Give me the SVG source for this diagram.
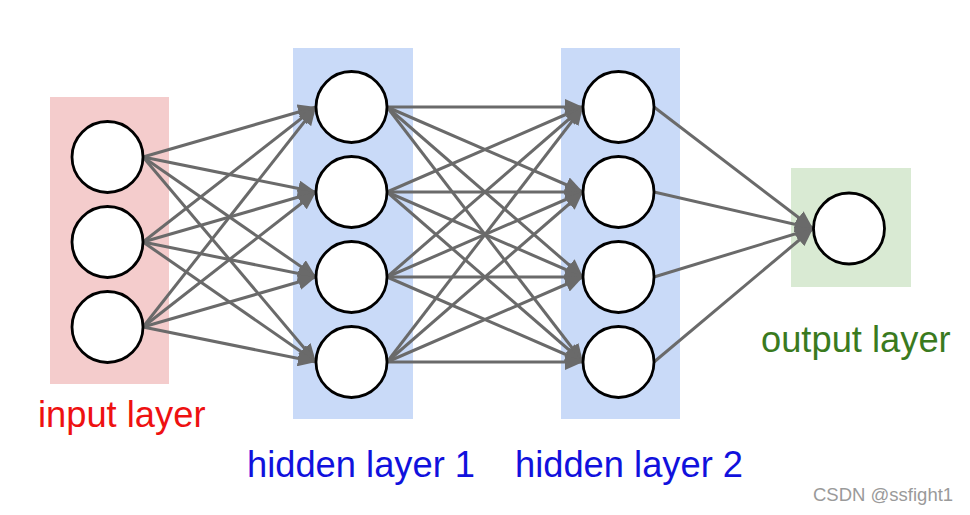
<svg xmlns="http://www.w3.org/2000/svg" width="970" height="515" viewBox="0 0 970 515">
<style>
.n{fill:#ffffff;stroke:#000000;stroke-width:2.8}
.c line{stroke:#6a6a6a;stroke-width:3;marker-end:url(#ah)}
.lbl{font-family:"Liberation Sans",Arial,sans-serif;font-size:36.3px}
</style>
<defs>
<marker id="ah" markerUnits="userSpaceOnUse" viewBox="0 0 18 16" markerWidth="18" markerHeight="16" refX="18" refY="8" orient="auto">
<path d="M0,0 L18,8 L0,16 z" fill="#6a6a6a"/>
</marker>
</defs>
<rect width="970" height="515" fill="#ffffff"/>
<g id="layer-bg">
<rect x="50" y="97" width="119" height="287" fill="#f4cccc"/>
<rect x="293" y="48" width="120" height="371" fill="#c9daf8"/>
<rect x="561" y="48" width="119" height="371" fill="#c9daf8"/>
<rect x="791" y="168" width="120" height="119" fill="#d9ead3"/>
</g>
<g id="connectors" class="c">
<line x1="143" y1="157" x2="316" y2="107"/>
<line x1="143" y1="157" x2="316" y2="192"/>
<line x1="143" y1="157" x2="316" y2="277"/>
<line x1="143" y1="157" x2="316" y2="362"/>
<line x1="143" y1="242" x2="316" y2="107"/>
<line x1="143" y1="242" x2="316" y2="192"/>
<line x1="143" y1="242" x2="316" y2="277"/>
<line x1="143" y1="242" x2="316" y2="362"/>
<line x1="143" y1="327" x2="316" y2="107"/>
<line x1="143" y1="327" x2="316" y2="192"/>
<line x1="143" y1="327" x2="316" y2="277"/>
<line x1="143" y1="327" x2="316" y2="362"/>
<line x1="387" y1="107" x2="583" y2="107"/>
<line x1="387" y1="107" x2="583" y2="192"/>
<line x1="387" y1="107" x2="583" y2="277"/>
<line x1="387" y1="107" x2="583" y2="362"/>
<line x1="387" y1="192" x2="583" y2="107"/>
<line x1="387" y1="192" x2="583" y2="192"/>
<line x1="387" y1="192" x2="583" y2="277"/>
<line x1="387" y1="192" x2="583" y2="362"/>
<line x1="387" y1="277" x2="583" y2="107"/>
<line x1="387" y1="277" x2="583" y2="192"/>
<line x1="387" y1="277" x2="583" y2="277"/>
<line x1="387" y1="277" x2="583" y2="362"/>
<line x1="387" y1="362" x2="583" y2="107"/>
<line x1="387" y1="362" x2="583" y2="192"/>
<line x1="387" y1="362" x2="583" y2="277"/>
<line x1="387" y1="362" x2="583" y2="362"/>
<line x1="654" y1="107" x2="813" y2="228.5"/>
<line x1="654" y1="192" x2="813" y2="228.5"/>
<line x1="654" y1="277" x2="813" y2="228.5"/>
<line x1="654" y1="362" x2="813" y2="228.5"/>
</g>
<g id="input-layer">
<circle class="n" cx="107.5" cy="157" r="35.5"/>
<circle class="n" cx="107.5" cy="242" r="35.5"/>
<circle class="n" cx="107.5" cy="327" r="35.5"/>
<text class="lbl" x="38" y="427" fill="#ee1111">input layer</text>
</g>
<g id="hidden-layer-1">
<circle class="n" cx="351.5" cy="107" r="35.5"/>
<circle class="n" cx="351.5" cy="192" r="35.5"/>
<circle class="n" cx="351.5" cy="277" r="35.5"/>
<circle class="n" cx="351.5" cy="362" r="35.5"/>
<text class="lbl" x="247" y="477" fill="#1111dd">hidden layer 1</text>
</g>
<g id="hidden-layer-2">
<circle class="n" cx="618.5" cy="107" r="35.5"/>
<circle class="n" cx="618.5" cy="192" r="35.5"/>
<circle class="n" cx="618.5" cy="277" r="35.5"/>
<circle class="n" cx="618.5" cy="362" r="35.5"/>
<text class="lbl" x="515" y="477" fill="#1111dd">hidden layer 2</text>
</g>
<g id="output-layer">
<circle class="n" cx="849" cy="228.5" r="35.5"/>
<text class="lbl" x="761" y="352" fill="#3a7a1e">output layer</text>
</g>
<text x="813" y="501" font-family="'Liberation Sans',Arial,sans-serif" font-size="18.5px" fill="#9a9a9a">CSDN @ssfight1</text>
</svg>
